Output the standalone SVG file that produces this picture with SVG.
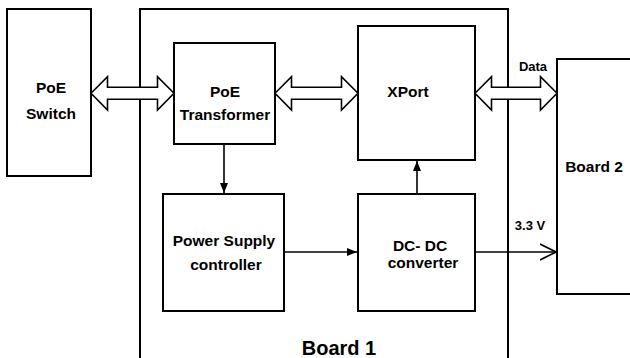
<svg xmlns="http://www.w3.org/2000/svg" width="630" height="358" viewBox="0 0 630 358">
<defs>
<style>
.box{fill:#fff;stroke:#000;stroke-width:2}
.board{fill:none;stroke:#000;stroke-width:2}
.big{fill:#fff;stroke:#000;stroke-width:1.6;stroke-linejoin:miter}
.ln{fill:none;stroke:#000;stroke-width:1.6}
.t{font-family:"Liberation Sans",Arial,sans-serif;font-weight:bold;font-size:15.5px;fill:#000;text-anchor:middle}
.s{font-size:13px}
.b1{font-size:20px}
</style>
<marker id="fa" viewBox="0 0 10 8" refX="10" refY="4" markerWidth="10" markerHeight="8" markerUnits="userSpaceOnUse" orient="auto">
<path d="M0,0 L10,4 L0,8 Z" fill="#000"/>
</marker>
<marker id="oa" viewBox="0 0 17 18" refX="16" refY="9" markerWidth="17" markerHeight="18" markerUnits="userSpaceOnUse" orient="auto">
<path d="M0,1 L16,9 L0,17" fill="none" stroke="#000" stroke-width="1.6"/>
</marker>
</defs>
<rect width="630" height="358" fill="#fff"/>
<g id="board1">
<rect class="board" x="140" y="9" width="368" height="360"/>
<text class="t b1" x="339" y="355">Board 1</text>
</g>
<g id="board2">
<rect class="box" x="557" y="59" width="90" height="235"/>
<text class="t" x="594" y="172">Board 2</text>
</g>
<g id="poe-switch">
<rect class="box" x="7" y="9" width="84" height="167"/>
<text class="t" x="51" y="93">PoE</text>
<text class="t" x="51" y="119">Switch</text>
</g>
<g id="poe-transformer">
<rect class="box" x="174" y="43" width="101" height="101"/>
<text class="t" x="225" y="97">PoE</text>
<text class="t" x="225" y="120">Transformer</text>
</g>
<g id="xport">
<rect class="box" x="358" y="26" width="117" height="134"/>
<text class="t" x="408" y="97">XPort</text>
</g>
<g id="power-supply">
<rect class="box" x="163" y="194" width="121" height="117"/>
<text class="t" x="224" y="246">Power Supply</text>
<text class="t" x="226" y="270">controller</text>
</g>
<g id="dcdc">
<rect class="box" x="358" y="194" width="117" height="117"/>
<text class="t" x="420" y="251">DC- DC</text>
<text class="t" x="423" y="268">converter</text>
</g>
<g id="connectors">
<polygon class="big" points="91,93.3 107.5,76.7 107.5,87.3 157.5,87.3 157.5,76.7 174,93.3 157.5,110 157.5,99.3 107.5,99.3 107.5,110"/>
<polygon class="big" points="275,93.3 291.5,76.7 291.5,87.3 341.5,87.3 341.5,76.7 358,93.3 341.5,110 341.5,99.3 291.5,99.3 291.5,110"/>
<polygon class="big" points="475,93.3 491.5,76.7 491.5,87.3 540.5,87.3 540.5,76.7 557,93.3 540.5,110 540.5,99.3 491.5,99.3 491.5,110"/>
<line class="ln" x1="224" y1="144" x2="224" y2="193" marker-end="url(#fa)"/>
<line class="ln" x1="284" y1="252" x2="357" y2="252" marker-end="url(#fa)"/>
<line class="ln" x1="417" y1="194" x2="417" y2="161" marker-end="url(#fa)"/>
<line class="ln" x1="475" y1="252" x2="556" y2="252" marker-end="url(#oa)"/>
<text class="t s" x="533" y="71">Data</text>
<text class="t s" x="530" y="230">3.3 V</text>
</g>
</svg>
